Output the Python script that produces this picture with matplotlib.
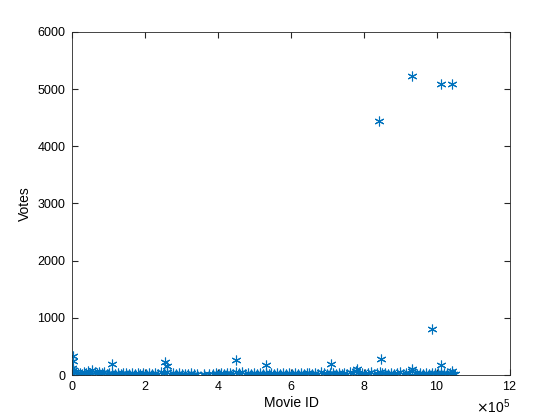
import matplotlib.pyplot as plt
from matplotlib.ticker import ScalarFormatter

plt.rcParams['font.family'] = ['Liberation Sans', 'DejaVu Sans']

# movie id in units of 1e5, votes
band_x = [0.00, 0.03, 0.06, 0.10, 0.15, 0.20, 0.26, 0.31, 0.37, 0.42, 0.48, 0.55, 0.61, 0.68,
          0.74, 0.81, 0.88, 0.95, 1.02, 1.10, 1.18, 1.25, 1.33, 1.40, 1.48, 1.56, 1.63, 1.71,
          1.79, 1.87, 1.95, 2.03, 2.11, 2.19, 2.27, 2.35, 2.44, 2.52, 2.60, 2.68, 2.76, 2.84,
          2.92, 3.00, 3.08, 3.16, 3.25, 3.33, 3.42, 3.60, 3.75, 3.85, 3.93, 4.01, 4.09, 4.17,
          4.25, 4.33, 4.41, 4.50, 4.58, 4.66, 4.74, 4.82, 4.90, 4.98, 5.06, 5.14, 5.22, 5.30,
          5.38, 5.46, 5.54, 5.62, 5.70, 5.78, 5.86, 5.94, 6.02, 6.10, 6.18, 6.26, 6.34, 6.42,
          6.50, 6.58, 6.66, 6.74, 6.82, 6.90, 6.98, 7.06, 7.14, 7.22, 7.30, 7.38, 7.46, 7.54,
          7.62, 7.70, 7.78, 7.86, 7.94, 8.02, 8.10, 8.18, 8.26, 8.34, 8.42, 8.50, 8.58, 8.66,
          8.74, 8.82, 8.90, 8.98, 9.06, 9.14, 9.22, 9.30, 9.38, 9.46, 9.54, 9.62, 9.70, 9.78,
          9.86, 9.94, 10.02, 10.10, 10.18, 10.26, 10.34, 10.42, 10.48]
band_y = [120, 80, 60, 45, 30, 40, 25, 55, 35, 70, 40, 90, 50, 35, 60, 30, 45, 25, 40, 30,
          20, 35, 25, 40, 30, 20, 35, 25, 30, 20, 40, 25, 30, 20, 35, 25, 60, 30, 45, 20,
          35, 25, 30, 20, 25, 15, 30, 20, 15, 5, 10, 20, 30, 25, 35, 20, 30, 40, 25, 55,
          30, 45, 25, 35, 20, 30, 25, 40, 20, 30, 25, 35, 20, 30, 25, 40, 20, 30, 25, 35,
          20, 30, 25, 40, 30, 20, 35, 25, 45, 30, 20, 35, 40, 25, 30, 20, 35, 25, 45, 30,
          70, 25, 35, 20, 30, 45, 25, 35, 60, 30, 40, 25, 35, 20, 30, 45, 25, 35, 30, 70,
          40, 25, 35, 20, 30, 25, 40, 35, 30, 25, 40, 30, 35, 25, 20]
out_x = [0.02, 0.02, 1.10, 2.55, 2.60, 4.50, 5.30, 7.10, 8.40, 8.45, 9.30, 9.30, 9.85, 10.10,
         10.10, 10.40, 10.40, 7.80, 3.60]
out_y = [340, 250, 200, 230, 150, 260, 180, 190, 4440, 280, 5230, 100, 800, 5090,
         170, 5090, 70, 100, 10]

fig = plt.figure(figsize=(5.6, 4.2), dpi=100)
ax = fig.add_axes([0.129, 0.107, 0.782, 0.817])
xs = [v * 1e5 for v in band_x + out_x]
ys = band_y + out_y
ax.plot(xs, ys, marker=(6, 2, 0), color='#0072BD', markersize=7, linestyle='none',
        markeredgewidth=0.8)

ax.set_xlim(0, 12e5)
ax.set_ylim(0, 6000)
ax.set_xticks([i * 2e5 for i in range(7)])
ax.set_yticks(range(0, 6001, 1000))
fmt = ScalarFormatter(useMathText=True)
fmt.set_powerlimits((5, 5))
ax.xaxis.set_major_formatter(fmt)
ax.tick_params(direction='in', labelsize=9, top=True, right=True, length=4, color='#262626')
ax.tick_params(axis='y', pad=5)
for s in ax.spines.values():
    s.set_color('#262626')
    s.set_linewidth(0.6)
ax.set_xlabel('Movie ID', fontsize=10, labelpad=2)
ax.set_ylabel('Votes', fontsize=10)
fig.savefig('out.png', dpi=100)
